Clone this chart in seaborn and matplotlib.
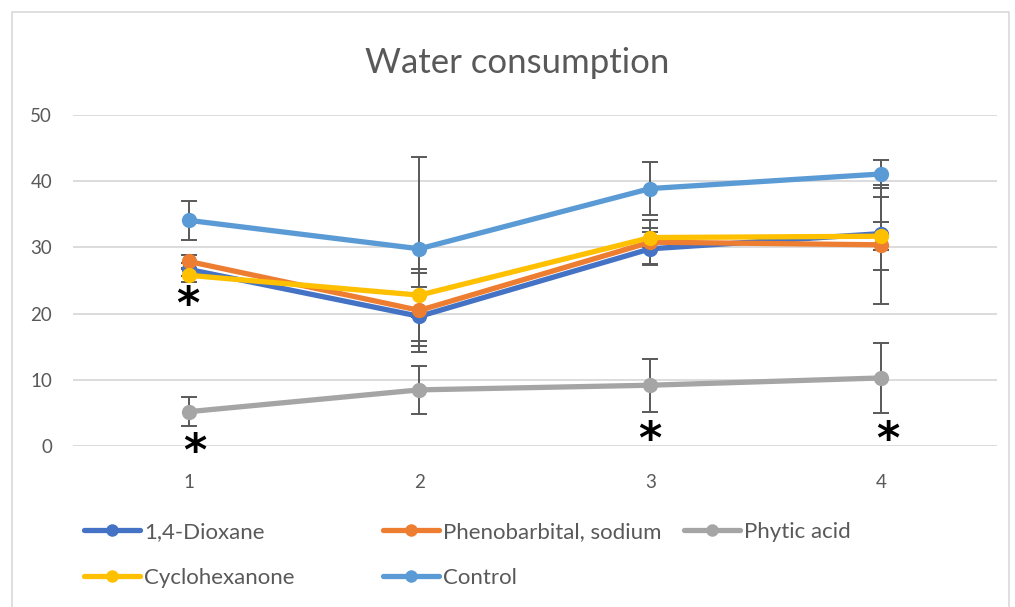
import numpy as np
import pandas as pd
import matplotlib.pyplot as plt
import seaborn as sns
from matplotlib.lines import Line2D
from matplotlib.patches import Rectangle

weeks = [1, 2, 3, 4]
series_names = ["1,4-Dioxane", "Phenobarbital, sodium", "Phytic acid", "Cyclohexanone", "Control"]

dioxane = [26.7, 19.6, 29.8, 32.1]
phenobarbital = [27.9, 20.5, 30.8, 30.4]
phytic = [5.2, 8.5, 9.2, 10.3]
cyclohexanone = [25.8, 22.8, 31.5, 31.7]
control = [34.1, 29.8, 38.9, 41.1]

dioxane_sd = [1.0, 4.5, 2.5, 5.5]
phenobarbital_sd = [1.0, 6.3, 3.3, 9.0]
phytic_sd = [2.2, 3.6, 4.0, 5.3]
cyclohexanone_sd = [1.0, 3.3, 1.5, 2.1]
control_sd = [2.9, 13.9, 4.0, 2.1]

colors = ["#4472C4", "#ED7D31", "#A5A5A5", "#FFC000", "#5B9BD5"]

# significance marks (week, y position)
star_x = [1.0, 1.03, 3.0, 4.03]
star_y = [21.6, -0.6, 1.1, 1.1]

means = [dioxane, phenobarbital, phytic, cyclohexanone, control]
sds = [dioxane_sd, phenobarbital_sd, phytic_sd, cyclohexanone_sd, control_sd]

df = pd.DataFrame({
    "week": weeks * len(series_names),
    "value": np.concatenate(means),
    "sd": np.concatenate(sds),
    "series": np.repeat(series_names, len(weeks)),
})

sns.set_style("white")
plt.rcParams["font.family"] = ["Lato", "DejaVu Sans"]
plt.rcParams["mathtext.fontset"] = "dejavusans"
text_col = "#595959"

fig = plt.figure(figsize=(10.15, 6.07), dpi=100)
ax = fig.add_axes([0.072, 0.265, 0.91, 0.5455])

for name, grp in df.groupby("series", sort=False):
    ax.errorbar(grp["week"], grp["value"], yerr=grp["sd"], fmt="none",
                ecolor="#595959", elinewidth=1.4, capsize=6, capthick=1.4, zorder=2)

sns.lineplot(data=df, x="week", y="value", hue="series", hue_order=series_names,
             palette=colors, marker="o", markersize=11, markeredgewidth=0,
             linewidth=3.8, ax=ax, legend=False, zorder=3)

# mathtext keeps the asterisk's box tight around the glyph
for sx, sy in zip(star_x, star_y):
    ax.text(sx, sy, r"$\mathbf{*}$", fontsize=32, ha="center", va="center",
            color="black", clip_on=False, zorder=5)

ax.set_xlim(0.5, 4.5)
ax.set_ylim(0, 50)
ax.set_xticks(weeks)
ax.set_yticks(range(0, 51, 10))
ax.grid(axis="y", color="#D9D9D9", linewidth=1.3)
ax.set_axisbelow(True)
for sp in ax.spines.values():
    sp.set_visible(False)
ax.tick_params(axis="y", length=0, pad=15, labelsize=13.5, labelcolor=text_col)
ax.tick_params(axis="x", length=0, pad=20, labelsize=13.5, labelcolor=text_col)
ax.set_xlabel("")
ax.set_ylabel("")

fig.text(0.51, 0.896, "Water consumption", ha="center", va="center",
         fontsize=25, color=text_col)

handles = [Line2D([], [], color=c, linewidth=3.8, marker="o", markersize=9,
                  markeredgewidth=0) for c in colors]
# Excel-style legend: three columns placed at fixed positions
columns = [[0, 3], [1, 4], [2]]
col_left = [84, 383, 684]
for idx, left in zip(columns, col_left):
    fig.legend([handles[i] for i in idx], [series_names[i] for i in idx],
               loc="upper left", bbox_to_anchor=(left / 1015, 1 - 522 / 607),
               frameon=False, fontsize=16, labelcolor=text_col, handlelength=2.5,
               handletextpad=0.2, labelspacing=1.18, borderaxespad=0, borderpad=0)

fig.patches.append(Rectangle((0.012, -0.01), 0.982, 0.99, transform=fig.transFigure,
                             fill=False, edgecolor="#D9D9D9", linewidth=1.2))

fig.savefig("out.png", dpi=100)
